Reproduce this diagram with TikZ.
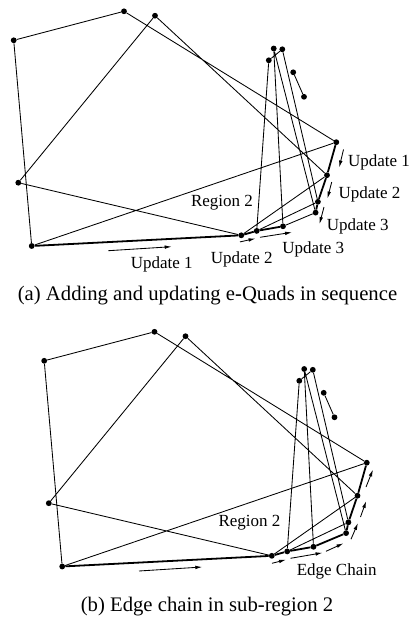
\documentclass[tikz,border=0pt]{standalone}
\usepackage{fontspec}
\setmainfont{Liberation Serif}
\usetikzlibrary{arrows.meta}
\newcommand\mygraph[1]{%
  \node[dot] (#1P1) at (13.7,40.3) {};
  \node[dot] (#1P2) at (124,11.3) {};
  \node[dot] (#1P3) at (155,15.7) {};
  \node[dot] (#1P4) at (18.3,182.7) {};
  \node[dot] (#1P5) at (31.7,246) {};
  \node[dot] (#1Q1) at (273.7,48.5) {};
  \node[dot] (#1Q2) at (282.3,49.3) {};
  \node[dot] (#1Q3) at (268.8,60.3) {};
  \node[dot] (#1Q4) at (293.2,72.3) {};
  \node[dot] (#1Q5) at (304,96.8) {};
  \node[dot] (#1R1) at (336.3,142.2) {};
  \node[dot] (#1R2) at (327,175.2) {};
  \node[dot] (#1R3) at (317.9,201.8) {};
  \node[dot] (#1R4) at (315.6,212.6) {};
  \node[dot] (#1B1) at (241.3,235.3) {};
  \node[dot] (#1B2) at (256.7,230.9) {};
  \node[dot] (#1B3) at (283,226.3) {};
  \draw[ln] (#1P1)--(#1P2) (#1P2)--(#1R1) (#1P3)--(#1P4) (#1P3)--(#1R2)
    (#1P1)--(#1P5) (#1P4)--(#1B1) (#1P5)--(#1R1)
    (#1Q3)--(#1B2) (#1Q1)--(#1B3) (#1Q3)--(#1Q2) (#1Q1)--(#1R4) (#1Q2)--(#1R3)
    (#1Q4)--(#1Q5) (#1B1)--(#1R2) (#1B2)--(#1R3);
  \draw[thk] (#1P5)--(#1B1) (#1B1)--(#1B2) (#1B2)--(#1B3)
    (#1R1)--(#1R2) (#1R2)--(#1R3) (#1R3)--(#1R4);
}
\begin{document}
\begin{tikzpicture}[x=1pt,y=-1pt,
  dot/.style={circle,fill=black,inner sep=0pt,minimum size=5.8pt},
  ln/.style={line width=0.85pt},
  thk/.style={line width=1.8pt},
  lbl/.style={font=\fontsize{17}{20}\selectfont,inner sep=0pt,anchor=base},
  captxt/.style={font=\fontsize{20.7}{24}\selectfont,inner sep=0pt,anchor=base},
  arr/.style={line width=0.85pt,-{Latex[length=7pt,width=3.6pt]}}]
\useasboundingbox (0,0) rectangle (412,618);
% ---------- panel (a)
\begin{scope}
  \mygraph{a}
  \draw[ln] (aB3)--(aR4);
\end{scope}
\coordinate (a1s) at (108.3,250.7); \coordinate (a1e) at (171.7,246.7);
\coordinate (a2s) at (240,241.9);   \coordinate (a2e) at (255.5,238.5);
\coordinate (a3s) at (260,237.3);   \coordinate (a3e) at (292,232.3);
\coordinate (r1s) at (343.5,149.5); \coordinate (r1e) at (339.2,167.5);
\coordinate (r2s) at (331.7,182);   \coordinate (r2e) at (327.5,198.5);
\coordinate (r3s) at (324,207);     \coordinate (r3e) at (319.5,224);
\draw[arr] (a1s)--(a1e);
\draw[arr] (a2s)--(a2e);
\draw[arr] (a3s)--(a3e);
\draw[arr] (r1s)--(r1e);
\draw[arr] (r2s)--(r2e);
\draw[arr] (r3s)--(r3e);
\node[lbl] (ua1) at (161.7,268.3) {Update 1};
\node[lbl] (ua2) at (241.7,263.3) {Update 2};
\node[lbl] (ua3) at (313.3,253.3) {Update 3};
\node[lbl] (ur1) at (379,166.7) {Update 1};
\node[lbl] (ur2) at (369.5,198.3) {Update 2};
\node[lbl] (ur3) at (357.8,230) {Update 3};
\node[lbl] (rega) at (222,206.7) {Region 2};
\node[captxt] (capa) at (207.5,300.5) {(a) Adding and updating e-Quads in sequence};
% ---------- panel (b)
\begin{scope}[shift={(30.5,320.5)}]
  \mygraph{b}
  \draw[thk] (bB3)--(bR4);
\end{scope}
\coordinate (b0s) at (139,571);     \coordinate (b0e) at (202.3,567);
\coordinate (c1s) at (272,563.3);   \coordinate (c1e) at (286,559.7);
\coordinate (c2s) at (290.5,558.3); \coordinate (c2e) at (322.5,552.8);
\coordinate (c3s) at (326,551.3);   \coordinate (c3e) at (343.5,543.3);
\coordinate (c4s) at (351,539.2);   \coordinate (c4e) at (358,523);
\coordinate (c5s) at (360.5,517);   \coordinate (c5e) at (366.2,501);
\coordinate (c6s) at (366,487);     \coordinate (c6e) at (373,469.5);
\draw[arr] (b0s)--(b0e);
\draw[arr] (c1s)--(c1e);
\draw[arr] (c2s)--(c2e);
\draw[arr] (c3s)--(c3e);
\draw[arr] (c4s)--(c4e);
\draw[arr] (c5s)--(c5e);
\draw[arr] (c6s)--(c6e);
\node[lbl] (regb) at (249.5,526.5) {Region 2};
\node[lbl] (chain) at (336.7,575.5) {Edge Chain};
\node[captxt] (capb) at (207,611.5) {(b) Edge chain in sub-region 2};
\end{tikzpicture}
\end{document}
